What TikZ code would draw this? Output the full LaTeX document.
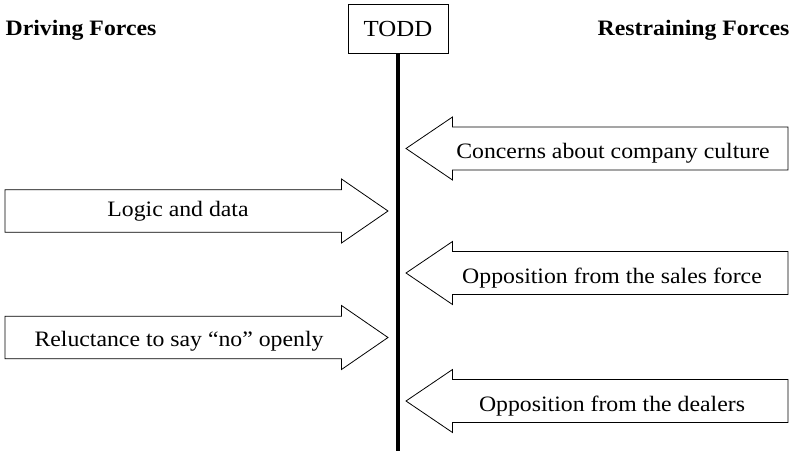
\documentclass[tikz,border=0pt]{standalone}
\usepackage{fontspec}
\setmainfont{Liberation Serif}
\usepackage{graphicx}
\newcommand\tx[1]{\scalebox{1.08}[1]{#1}}
\newcommand\rarr[3]{% left x, tip x, centre y
  \draw[arrowshape] (#1,#3-21.25) -- (#2-46.5,#3-21.25) -- (#2-46.5,#3-32) -- (#2,#3)
    -- (#2-46.5,#3+32) -- (#2-46.5,#3+21.25) -- (#1,#3+21.25) -- cycle;}
\newcommand\larr[3]{% tip x, right x, centre y
  \draw[arrowshape] (#2,#3-21.5) -- (#1+46.5,#3-21.5) -- (#1+46.5,#3-31.5) -- (#1,#3)
    -- (#1+46.5,#3+31.5) -- (#1+46.5,#3+21.5) -- (#2,#3+21.5) -- cycle;}
\begin{document}
\begin{tikzpicture}[x=1pt,y=-1pt,
  arrowshape/.style={draw=black,fill=white,line width=0.8pt,line join=miter},
  lbl/.style={anchor=base,inner sep=0pt,font=\fontsize{22}{26}\selectfont},
  head/.style={anchor=base,inner sep=0pt,font=\fontsize{22}{26}\selectfont\bfseries},
  toddbox/.style={draw=black,line width=0.8pt,minimum width=100pt,minimum height=49pt,
    inner sep=0pt,font=\fontsize{23}{27}\selectfont,fill=white}]
\useasboundingbox (0,0) rectangle (791,452);
\fill[white] (0,0) rectangle (791,452);
% headings
\node[head] (driving) at (81,36) {\tx{Driving Forces}};
\node[head] (restraining) at (693.5,36) {\tx{Restraining Forces}};
% TODD and its line
\node[toddbox] (todd) at (398,28.5) {\tx{TODD}};
\coordinate (bottom) at (398.5,451);
\draw[line width=3.8pt] (todd.south) -- (todd.south |- bottom);
% driving arrows
\rarr{5}{388}{211}
\node[lbl] (logic) at (178,216.5) {\tx{Logic and data}};
\rarr{5}{388}{337.5}
\node[lbl] (reluct) at (179,346.5) {\tx{Reluctance to say “no” openly}};
% restraining arrows
\larr{406}{788}{148.5}
\node[lbl] (culture) at (613,158) {\tx{Concerns about company culture}};
\larr{406}{788}{273}
\node[lbl] (sales) at (612,283) {\tx{Opposition from the sales force}};
\larr{406}{788}{401}
\node[lbl] (dealers) at (612,411.5) {\tx{Opposition from the dealers}};
\end{tikzpicture}
\end{document}
